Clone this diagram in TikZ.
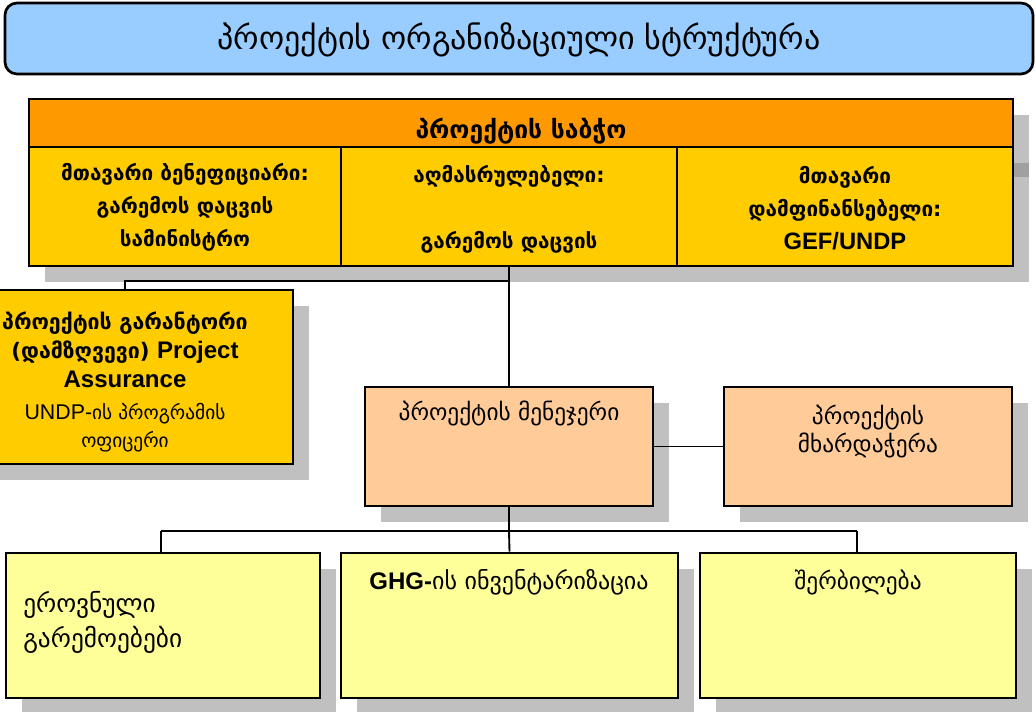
\documentclass[tikz,border=0pt]{standalone}
\usepackage{fontspec}
\setmainfont{DejaVu Sans}
\newfontfamily\lat{Liberation Sans}
\usetikzlibrary{shadows}
\definecolor{titleblue}{HTML}{99CCFF}
\definecolor{headorange}{HTML}{FF9900}
\definecolor{cellyellow}{HTML}{FFCC00}
\definecolor{peach}{HTML}{FFCC99}
\definecolor{paleyellow}{HTML}{FFFF99}
\definecolor{shadowgray}{HTML}{C0C0C0}
\definecolor{darkshadow}{HTML}{A0A0A0}
\begin{document}
\begin{tikzpicture}[x=0.75pt,y=-0.75pt,
  box/.style={draw=black, line width=2pt, inner sep=0pt},
  shad/.style={drop shadow={shadow xshift=12pt, shadow yshift=-12pt, fill=shadowgray, opacity=1}},
  conn/.style={draw=black, line width=1.4pt},
  txt/.style={inner sep=0pt, align=center, text=black},
  bigtxt/.style={txt, font=\fontsize{24}{28}\selectfont},
  celltxt/.style={txt, font=\fontsize{15.5}{24.75}\selectfont\bfseries},
  medtxt/.style={txt, font=\fontsize{17.5}{21}\selectfont}]
\useasboundingbox (0,0) rectangle (1036,712);
% title
\node[box, fill=titleblue, rounded corners=9pt, minimum width=771pt, minimum height=53.25pt] (title) at (519,38.5) {};
\node[bigtxt] (titletxt) at (519,40) {პროექტის ორგანიზაციული სტრუქტურა};
% board
\node[shad, inner sep=0pt, minimum width=738pt, minimum height=125.25pt] (board) at (521,182.5) {};
\fill[darkshadow] (1013,163) rectangle (1029,177);
\node[box, fill=headorange, minimum width=738pt, minimum height=36pt] (head) at (521,123) {};
\node[box, fill=cellyellow, minimum width=234pt, minimum height=89.25pt] (c1) at (185,206.5) {};
\node[box, fill=cellyellow, minimum width=252pt, minimum height=89.25pt] (c2) at (509,206.5) {};
\node[box, fill=cellyellow, minimum width=252pt, minimum height=89.25pt] (c3) at (845,206.5) {};
\node[celltxt, font=\fontsize{18.5}{22}\selectfont\bfseries] (headtxt) at (521,131) {პროექტის საბჭო};
\node[celltxt] (c1txt) at (185,207.5) {მთავარი ბენეფიციარი:\\გარემოს დაცვის\\სამინისტრო};
\node[celltxt] (c2txt) at (509,209) {აღმასრულებელი:\\\mbox{}\\გარემოს დაცვის};
\node[celltxt] (c3txt) at (845,208) {მთავარი\\დამფინანსებელი:\\{\lat\bfseries\fontsize{17.8}{24.75}\selectfont GEF/UNDP}};
% assurance
\node[box, shad, fill=cellyellow, minimum width=242.25pt, minimum height=130.5pt] (assur) at (131.5,377) {};
\node[celltxt, font=\fontsize{16}{21.75}\selectfont\bfseries] (assurtxt) at (125,350) {პროექტის გარანტორი\\(დამზღვევი) {\lat\bfseries\fontsize{18}{21.75}\selectfont Project}\\{\lat\bfseries\fontsize{18}{21.75}\selectfont Assurance}};
\node[medtxt, font=\fontsize{14.5}{21}\selectfont] (assurtxt2) at (125,428) {{\lat\fontsize{16}{21}\selectfont UNDP-}ის პროგრამის\\ოფიცერი};
% manager and support
\node[box, shad, fill=peach, minimum width=216pt, minimum height=89.25pt] (mgr) at (509,446.5) {};
\node[box, shad, fill=peach, minimum width=216pt, minimum height=89.25pt] (sup) at (868,446.5) {};
\node[medtxt] (mgrtxt) at (509,413) {პროექტის მენეჯერი};
\node[medtxt] (suptxt) at (868,432) {პროექტის\\მხარდაჭერა};
% bottom boxes
\node[box, shad, fill=paleyellow, minimum width=235.5pt, minimum height=108.75pt] (b1) at (163,625.5) {};
\node[box, shad, fill=paleyellow, minimum width=252.75pt, minimum height=108.75pt] (b2) at (509.5,625.5) {};
\node[box, shad, fill=paleyellow, minimum width=237pt, minimum height=108.75pt] (b3) at (858,625.5) {};
\node[medtxt, align=left, anchor=west, font=\fontsize{19}{26.25}\selectfont] (b1txt) at (23,622.5) {ეროვნული\\გარემოებები};
\node[medtxt, font=\fontsize{18}{21}\selectfont] (b2txt) at (509,582) {{\lat\bfseries\fontsize{18}{21}\selectfont GHG-}ის ინვენტარიზაცია};
\node[medtxt] (b3txt) at (858,582) {შერბილება};
% connectors
\coordinate (j1) at (509,281);
\coordinate (j2) at (125,281);
\coordinate (h1) at (509,531);
\coordinate (hl) at (161,531);
\coordinate (hr) at (857,531);
\draw[conn] (c2.south) -- (mgr.north);
\draw[conn] (j1) -- (j2) -- (j2 |- assur.north);
\draw[conn] (mgr.east) -- (sup.west);
\draw[conn] (mgr.south) -- (h1);
\draw[conn] (hl) -- (hr);
\draw[conn] (hl) -- (hl |- b1.north);
\draw[conn] (h1) -- (b2.north);
\draw[conn] (hr) -- (hr |- b3.north);
\end{tikzpicture}
\end{document}
